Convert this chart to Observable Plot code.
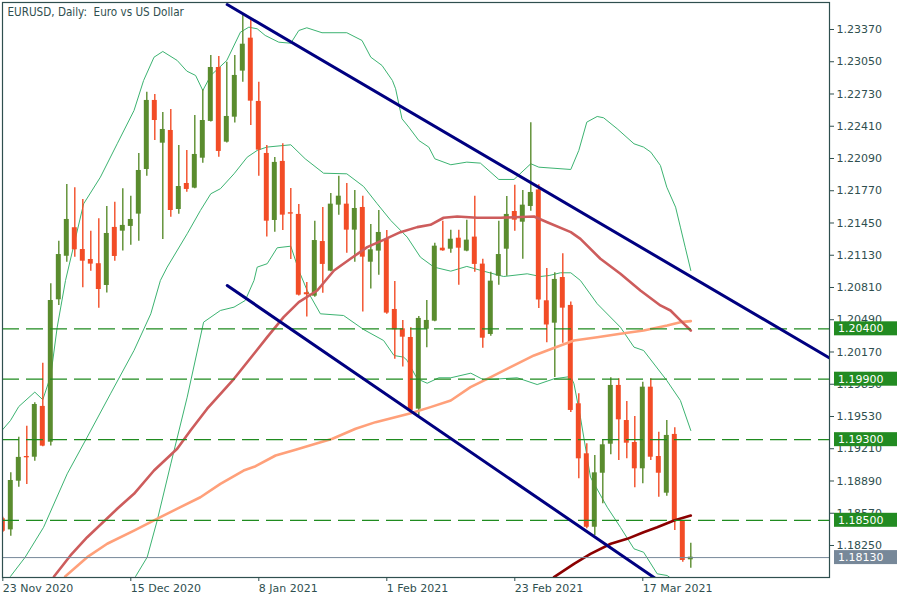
<!DOCTYPE html>
<html>
<head>
<meta charset="utf-8">
<script src="https://cdn.jsdelivr.net/npm/d3@7"></script>
<script src="https://cdn.jsdelivr.net/npm/@observablehq/plot@0.6"></script>
<style>
  html, body { margin: 0; padding: 0; background: #fff; }
  svg { display: block; }
</style>
</head>
<body>
<div id="chart"></div>
<script>
// ---- Daily EURUSD bars (bar index 0 = 23 Nov 2020) ----
const open = [1.18515,1.18405,1.18888,1.19133,1.19126,1.19630,1.19275,1.20688,1.21120,1.21403,
1.21187,1.21088,1.21046,1.20830,1.21406,1.21369,1.21416,1.21538,1.21981,1.22666,
1.22242,1.22368,1.21584,1.21842,1.21796,1.22093,1.22458,1.22993,1.22252,1.22500,
1.22957,1.23284,1.22656,1.22140,1.21475,1.22061,1.21552,1.21535,1.20758,1.20724,
1.21266,1.20972,1.21627,1.21637,1.21379,1.21604,1.21061,1.21171,1.21286,1.20592,
1.20400,1.20314,1.19603,1.20396,1.20476,1.21200,1.21190,1.21299,1.21171,1.21310,
1.21042,1.20344,1.20922,1.21190,1.21564,1.21458,1.21614,1.21778,1.20678,1.20456,
1.20909,1.20632,1.19656,1.19160,1.18431,1.18967,1.19255,1.19838,1.19490,1.19272,
1.19011,1.19821,1.19133,1.18769,1.19352,1.18498,1.18108];
const high = [1.18530,1.18971,1.19325,1.19433,1.19666,1.20059,1.20847,1.21269,1.21832,1.21800,
1.21683,1.21369,1.21492,1.21614,1.21656,1.21790,1.21716,1.22140,1.22748,1.22725,
1.22547,1.22576,1.22219,1.22170,1.22517,1.22772,1.23112,1.23102,1.23046,1.23112,
1.23509,1.23467,1.22847,1.22219,1.22100,1.22236,1.21793,1.21634,1.20860,1.21468,
1.21604,1.21743,1.21915,1.21842,1.21773,1.21716,1.21436,1.21574,1.21376,1.20870,
1.20483,1.20410,1.20522,1.20681,1.21250,1.21468,1.21379,1.21379,1.21478,1.21716,
1.21091,1.20962,1.21468,1.21713,1.21825,1.21773,1.22445,1.21830,1.20999,1.20956,
1.21145,1.20665,1.19755,1.19259,1.19143,1.19299,1.19914,1.19904,1.19679,1.19530,
1.19871,1.19904,1.19374,1.19490,1.19418,1.18498,1.18273];
const low = [1.18380,1.18341,1.18829,1.18855,1.19086,1.19230,1.19236,1.20631,1.21061,1.21111,
1.20807,1.20972,1.20605,1.20756,1.21071,1.21171,1.21230,1.21270,1.21915,1.22269,
1.21286,1.21508,1.21538,1.21756,1.21790,1.22044,1.22451,1.22103,1.22245,1.22441,
1.22847,1.22418,1.21915,1.21310,1.21359,1.21376,1.21088,1.20725,1.20516,1.20714,
1.20754,1.20965,1.21528,1.21151,1.21061,1.20566,1.20794,1.20932,1.20545,1.20099,
1.20020,1.19573,1.19540,1.20212,1.20470,1.21170,1.21151,1.20833,1.21165,1.20962,
1.20208,1.20327,1.20833,1.20922,1.21369,1.21091,1.21567,1.20602,1.20261,1.19917,
1.20258,1.19570,1.18912,1.18415,1.18348,1.18664,1.19150,1.19093,1.19110,1.18822,
1.18862,1.19093,1.18729,1.18739,1.18398,1.18084,1.18025];
const close = [1.18391,1.18895,1.19124,1.19120,1.19649,1.19236,1.20681,1.21137,1.21485,1.21184,
1.21071,1.21042,1.20790,1.21346,1.21118,1.21426,1.21485,1.21971,1.22666,1.22467,
1.22378,1.21574,1.21812,1.21783,1.22130,1.22467,1.22993,1.22160,1.22507,1.22914,
1.23224,1.22659,1.22173,1.21468,1.22051,1.21528,1.21538,1.20734,1.20738,1.21276,
1.21039,1.21637,1.21716,1.21379,1.21594,1.21111,1.21184,1.21356,1.20556,1.20390,
1.20317,1.19590,1.20503,1.20483,1.21220,1.21174,1.21289,1.21200,1.21280,1.21039,
1.20307,1.20873,1.21137,1.21535,1.21478,1.21627,1.21753,1.20686,1.20438,1.20890,
1.20605,1.19590,1.19110,1.18431,1.18971,1.19249,1.19838,1.19497,1.19265,1.19011,
1.19821,1.19126,1.18967,1.19342,1.18498,1.18101,1.18134];

// ---- Bollinger bands: [bar index, price] ----
const bbUpper = [[-0.3,1.19374],[0.96,1.19490],[2,1.19629],[4,1.19772],[5,1.19696],[6,1.19937],[6.8,1.20416],[7.84,1.20880],[10.1,1.21640],[12.2,1.21905],[14.3,1.22236],[16.4,1.22566],[17.6,1.22864],[18.9,1.23095],[20,1.23152],[21.8,1.23063],[23,1.22957],[24.1,1.22914],[25,1.22765],[26,1.22914],[28,1.23063],[29.7,1.23343],[30.75,1.23393],[31.8,1.23377],[32.8,1.23311],[34.5,1.23244],[36,1.23234],[37,1.23360],[38,1.23387],[39.9,1.23338],[43,1.23338],[44.9,1.23261],[46,1.23095],[47.4,1.23013],[48.7,1.22864],[49.1,1.22782],[49.5,1.22633],[49.9,1.22484],[50.75,1.22401],[52,1.22269],[53.25,1.22203],[54,1.22087],[56,1.22028],[58,1.22054],[59.7,1.22044],[62,1.21882],[63.9,1.21882],[66,1.22038],[67,1.22004],[71,1.21981],[72,1.22170],[73,1.22451],[74.3,1.22507],[75.1,1.22494],[76.8,1.22385],[78.9,1.22236],[80.1,1.22203],[81,1.22153],[82.2,1.22021],[83,1.21805],[84.1,1.21607],[84.7,1.21409],[85.3,1.21210],[86,1.20979]];
const bbMiddle = [[0.96,1.17943],[2.8,1.18134],[5.1,1.18431],[8.05,1.18961],[10.55,1.19325],[13.46,1.19755],[16.4,1.20185],[18.5,1.20549],[19.7,1.20880],[20.55,1.21012],[23.05,1.21343],[24.7,1.21574],[26,1.21740],[27.2,1.21790],[28.9,1.21938],[30.55,1.22103],[31.8,1.22170],[33,1.22203],[36,1.22226],[37.8,1.22087],[40.1,1.21944],[43,1.21938],[45.1,1.21812],[46.8,1.21641],[48.5,1.21475],[50.55,1.21310],[52.2,1.21111],[53.9,1.21012],[56,1.20972],[58,1.21019],[60.1,1.20972],[62.6,1.20919],[65.55,1.20946],[67.2,1.20919],[68.3,1.20929],[69.7,1.20956],[71,1.20956],[72.2,1.20880],[74.3,1.20649],[77.2,1.20416],[78.9,1.20218],[80.1,1.20185],[83,1.19887],[84.7,1.19689],[86,1.19391]];
const bbLower = [[16.6,1.17943],[18.05,1.18134],[19.3,1.18498],[21,1.19060],[23.05,1.19722],[25.1,1.20466],[27.2,1.20582],[28.9,1.20615],[30.3,1.20681],[31.4,1.20880],[31.8,1.21012],[33.05,1.21046],[34.3,1.21204],[36,1.21220],[37,1.20979],[38.05,1.20780],[39.7,1.20549],[42.6,1.20532],[45.1,1.20393],[47.6,1.20284],[48.9,1.20135],[50.1,1.20119],[50.55,1.20086],[51.8,1.19904],[53.05,1.19860],[54.5,1.19914],[56,1.19914],[58.5,1.19960],[60.1,1.19894],[64.3,1.19914],[66.8,1.19847],[68.9,1.19904],[71,1.19927],[71.4,1.19854],[72.2,1.19523],[73.46,1.18928],[75.55,1.18630],[77.2,1.18431],[78.9,1.18217],[80.1,1.18183],[81.8,1.17969],[83.05,1.17952],[83.5,1.17925]];

// ---- Moving averages: [bar index, price] ----
const maRed = [[6.4,1.17943],[8.46,1.18151],[10.55,1.18332],[14.3,1.18614],[16.4,1.18763],[18.9,1.18994],[21.8,1.19210],[23.46,1.19391],[25.55,1.19607],[28.9,1.19904],[31.4,1.20152],[33.05,1.20317],[35.1,1.20516],[37,1.20665],[39.3,1.20780],[41.4,1.20979],[43.46,1.21095],[45.55,1.21210],[47.6,1.21283],[49.7,1.21359],[51.8,1.21409],[53.46,1.21432],[55.1,1.21502],[56.8,1.21515],[59.3,1.21502],[62.2,1.21502],[66.4,1.21515],[68.05,1.21458],[71,1.21359],[72.2,1.21293],[74.7,1.21095],[77.2,1.20946],[79.7,1.20780],[82.2,1.20632],[83.46,1.20582],[84.7,1.20483],[86,1.20383]];
const maSalmon = [[7.8,1.17943],[10.55,1.18134],[13.05,1.18267],[16.4,1.18398],[19.7,1.18531],[22.2,1.18630],[24.7,1.18729],[27.2,1.18862],[30.1,1.18994],[31.6,1.19037],[34.1,1.19143],[36.6,1.19200],[39.1,1.19259],[41.2,1.19309],[44.1,1.19408],[46.6,1.19474],[51,1.19563],[53.46,1.19623],[56,1.19689],[58.46,1.19821],[61,1.19921],[63.46,1.20020],[66.4,1.20136],[68.05,1.20185],[71.4,1.20284],[74.3,1.20317],[77.2,1.20351],[80.1,1.20383],[83.05,1.20433],[84.7,1.20466],[86,1.20476]];
const maDark = [[68.9,1.17936],[71.4,1.18068],[73.46,1.18167],[76,1.18267],[78.05,1.18316],[80.1,1.18382],[81.8,1.18431],[83.9,1.18498],[86,1.18547]];

// ---- Trend channel lines ----
const trendUpper = [[28.05,1.23618],[103.34,1.20111]];
const trendLower = [[28.05,1.20830],[82,1.17900]];

// ---- Horizontal levels ----
const levels = [1.20400, 1.19900, 1.19300, 1.18500];
const bid = 1.18130;

// ---- Axis ticks ----
const yTicks = [1.23370,1.23050,1.22730,1.22410,1.22090,1.21770,1.21450,1.21130,1.20810,1.20490,1.20170,1.19850,1.19530,1.19210,1.18890,1.18570,1.18250];
const xTickIdx = [0, 16, 32, 48, 64, 80];
const xTickLabels = ["23 Nov 2020","15 Dec 2020","8 Jan 2021","1 Feb 2021","23 Feb 2021","17 Mar 2021"];
const title = "EURUSD, Daily:  Euro vs US Dollar";

const bars = open.map((o, i) => ({i, o, h: high[i], l: low[i], c: close[i]}));
const up = bars.filter(d => d.c >= d.o);
const down = bars.filter(d => d.c < d.o);

const GREEN = "#5a8c2e", RED = "#f24c26", BB = "#3cb371", INK = "#2f4f4f";
const px = d => d[0], py = d => d[1];

const chart = Plot.plot({
  width: 900, height: 600,
  marginLeft: 2, marginRight: 71, marginTop: 2, marginBottom: 23,
  style: {fontFamily: "DejaVu Sans", fontSize: "11px", color: INK, background: "#fff", overflow: "visible"},
  x: {type: "linear", domain: [-0.0375, 103.3375], axis: null, label: null},
  y: {domain: [1.179324, 1.236379], axis: null, label: null},
  marks: [
    Plot.line(bbUpper, {x: px, y: py, stroke: BB, strokeWidth: 1, clip: true}),
    Plot.line(bbMiddle, {x: px, y: py, stroke: BB, strokeWidth: 1, clip: true}),
    Plot.line(bbLower, {x: px, y: py, stroke: BB, strokeWidth: 1, clip: true}),
    Plot.ruleX(up, {x: "i", y1: "l", y2: "h", stroke: GREEN, strokeWidth: 1.4, clip: true}),
    Plot.ruleX(down, {x: "i", y1: "l", y2: "h", stroke: RED, strokeWidth: 1.4, clip: true}),
    Plot.rect(up, {x1: d => d.i - 0.31, x2: d => d.i + 0.31, y1: "o", y2: "c", fill: GREEN, clip: true}),
    Plot.rect(down, {x1: d => d.i - 0.31, x2: d => d.i + 0.31, y1: "o", y2: "c", fill: RED, clip: true}),
    Plot.line(maSalmon, {x: px, y: py, stroke: "#ffa07a", strokeWidth: 2.6, clip: true}),
    Plot.line(maRed, {x: px, y: py, stroke: "#cd5c5c", strokeWidth: 2.6, clip: true}),
    Plot.line(maDark, {x: px, y: py, stroke: "#8b0000", strokeWidth: 2.6, clip: true}),
    Plot.ruleY(levels, {stroke: "#1f8b1f", strokeWidth: 1.3, strokeDasharray: "17,7"}),
    Plot.ruleY([bid], {stroke: "#778899", strokeWidth: 1}),
    Plot.line(trendUpper, {x: px, y: py, stroke: "#000080", strokeWidth: 3, clip: true}),
    Plot.line(trendLower, {x: px, y: py, stroke: "#000080", strokeWidth: 3, clip: true}),
    Plot.frame({stroke: INK, strokeWidth: 1.2}),
    Plot.axisY({anchor: "right", label: null, ticks: yTicks, tickFormat: d => d.toFixed(5), tickSize: 4, tickPadding: 3, stroke: INK, fill: INK}),
    Plot.axisX({anchor: "bottom", label: null, ticks: xTickIdx, tickFormat: d => xTickLabels[xTickIdx.indexOf(d)], tickSize: 4, tickPadding: 3, textAnchor: "start", stroke: INK, fill: INK}),
    Plot.text([title], {frameAnchor: "top-left", dx: 5, dy: 5, lineAnchor: "top", text: d => d, fill: INK, fontSize: 11.6, fontFamily: "DejaVu Sans Condensed, DejaVu Sans"})
  ]
});

document.getElementById("chart").appendChild(chart);

// Price labels on the right axis for the horizontal levels
const ys = chart.scale("y");
const g = d3.select(chart).append("g")
  .attr("font-family", "DejaVu Sans").attr("font-size", 11).attr("text-anchor", "start");
levels.map(v => ({v, c: "#228b22"})).concat([{v: bid, c: "#778899"}]).forEach(({v, c}) => {
  const y = ys.apply(v);
  g.append("rect").attr("x", 834).attr("y", y - 7).attr("width", 63).attr("height", 14).attr("fill", c);
  g.append("text").attr("x", 838).attr("y", y).attr("dy", "0.36em").attr("text-anchor", "start")
    .attr("fill", "#fff").text(v.toFixed(5));
});
</script>
</body>
</html>
